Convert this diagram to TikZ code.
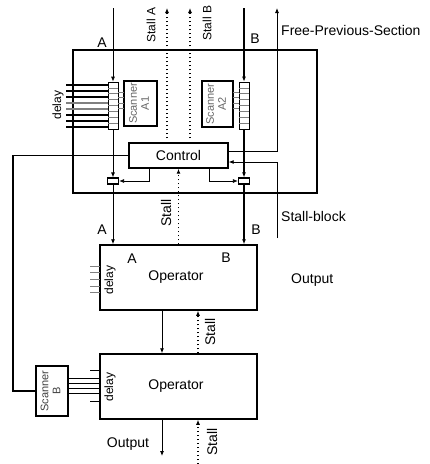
\documentclass[tikz,border=0pt]{standalone}
\usepackage{fontspec}
\setmainfont{Liberation Sans}
\usetikzlibrary{arrows.meta, positioning}

\begin{document}
\begin{tikzpicture}[
  x=1pt, y=-1pt,
  font=\fontsize{14}{16}\selectfont,
  box/.style={draw, line width=1.5pt, inner sep=0pt},
  reg/.style={draw, line width=0.7pt, inner sep=0pt, minimum width=10pt, minimum height=47pt},
  scan/.style={draw, line width=1.2pt, inner sep=0pt, text=black!60,
    font=\fontsize{11}{12}\selectfont},
  mux/.style={draw, line width=1.2pt, inner sep=0pt, minimum width=11pt, minimum height=6pt},
  arr/.style={-{Latex[length=5pt,width=4pt]}, line width=0.8pt},
  stall/.style={arr, line width=1.2pt, dash pattern=on 1.4pt off 2.6pt},
  wire/.style={line width=0.8pt},
  lbl/.style={inner sep=1pt},
  vlbl/.style={rotate=90, inner sep=1pt, font=\fontsize{12}{14}\selectfont}
]
\useasboundingbox (0,0) rectangle (430,464);

% section with the two input scanners
\node[box, minimum width=244pt, minimum height=143pt] (sect) at (195,121.5) {};
\node[reg] (regA) at (113,105.5) {};
\node[reg] (regB) at (244,105.5) {};
\node[scan, minimum width=33pt, minimum height=45pt] (scanA) at (140.5,103.5)
  {\rotatebox{90}{\begin{tabular}{@{}c@{}}Scanner\\A1\end{tabular}}};
\node[scan, minimum width=31pt, minimum height=46pt] (scanAb) at (217.5,104)
  {\rotatebox{90}{\begin{tabular}{@{}c@{}}Scanner\\A2\end{tabular}}};
\node[box, line width=1.4pt, minimum width=99pt, minimum height=25pt] (ctrl) at (178.5,155.5) {Control};
\node[mux] (muxA) at (113,181) {};
\node[mux] (muxB) at (244,181) {};

% operators
\node[box, minimum width=157pt, minimum height=65pt] (op1) at (178.5,277.5) {};
\node[box, minimum width=157pt, minimum height=65pt] (op2) at (178.5,386.5) {};
\node[scan, text=black!75, minimum width=32pt, minimum height=50pt] (scanB) at (52,391)
  {\rotatebox{90}{\begin{tabular}{@{}c@{}}Scanner\\B\end{tabular}}};

% register cells and taps
\foreach \k in {1,...,7} {
  \draw[gray, line width=0.6pt] (108,{82+\k*5.875}) -- (118,{82+\k*5.875});
  \draw[gray, line width=0.6pt] (239,{82+\k*5.875}) -- (249,{82+\k*5.875});
}
\foreach \y in {92,97,103,108} {
  \draw[gray, line width=0.7pt] (118,\y) -- (124,\y);
  \draw[gray, line width=0.7pt] (233,\y) -- (239,\y);
}
\foreach \y/\c in {85/black,91/black,97/black,103/gray,109/gray,115/black,121/black,127/black}
  \draw[wire, \c, line width=1.1pt] (66,\y) -- (108,\y);
\foreach \y in {266,272,279,286,292}
  \draw[gray, line width=0.8pt] (90,\y) -- (100,\y);
\foreach \y in {370,401}
  \draw[line width=0.8pt] (90,\y) -- (100,\y);
\foreach \y in {378,383,388,393}
  \draw[line width=0.8pt] (68,\y) -- (100,\y);

% inputs and stall outputs
\coordinate (inA) at (113,8);
\coordinate (inB) at (244,8);
\coordinate (stA) at (167,8);
\coordinate (stB) at (190,8);
\coordinate (fps) at (277,8);
\coordinate (sblk) at (277,238);
\coordinate (fb) at (13,391);
\draw[arr] (inA) -- (regA.north);
\draw[arr, line width=1.1pt] (inB) -- (regB.north);
\draw[stall] (stA |- ctrl.north) ++(0,-4) -- (stA);
\draw[stall] (stB |- ctrl.north) ++(0,-4) -- (stB);
\draw[arr] (ctrl.east |- 0,151) -| (fps);
\draw[arr] (sblk) |- (ctrl.east |- 0,162);
\draw[wire, line width=1.1pt] (ctrl.west) -| (fb) -- (scanB.west);

% selection of the pair
\draw[arr] (regA.south) -- (muxA.north);
\draw[arr, line width=1.1pt] (regB.south) -- (muxB.north);
\draw[arr] ([xshift=-29.5pt]ctrl.south) |- (muxA.east);
\draw[arr] ([xshift=30.5pt]ctrl.south) |- (muxB.west);
\draw[arr] (muxA.south) -- (muxA.south |- op1.north);
\draw[arr, line width=1.1pt] (muxB.south) -- (muxB.south |- op1.north);
\draw[stall] (op1.north) -- (ctrl.south);

% operator chain
\draw[arr] ([xshift=-16.5pt]op1.south) -- ([xshift=-16.5pt]op2.north);
\draw[stall] ([xshift=19.5pt]op2.north) -- ([xshift=19.5pt]op1.south);
\coordinate (out) at (162,456);
\coordinate (stIn) at (198,464);
\draw[arr] ([xshift=-16.5pt]op2.south) -- (out);
\draw[stall] (stIn) -- ([xshift=19.5pt]op2.south);

% labels
\node[lbl] (lA) at (102,43) {A};
\node[lbl] (lB) at (255,39) {B};
\node[vlbl] (lStA) at (151,25) {Stall A};
\node[vlbl] (lStB) at (207,23) {Stall B};
\node[lbl, anchor=west] (lFps) at (280,30) {Free-Previous-Section};
\node[lbl, anchor=west] (lSblk) at (280,216) {Stall-block};
\node[vlbl] (lDly) at (58,105) {delay};
\node[lbl] (lA1) at (102,230) {A};
\node[lbl] (lB1) at (256,230) {B};
\node[vlbl, font=\fontsize{14}{16}\selectfont] (lSt1) at (166,213) {Stall};
\node[lbl] (opA) at (132,259) {A};
\node[lbl] (opB) at (226,258) {B};
\node[lbl] (opT1) at (176,277) {Operator};
\node[vlbl] (lDly1) at (110,280) {delay};
\node[lbl, anchor=west] (lOut1) at (290,280) {Output};
\node[vlbl, font=\fontsize{14}{16}\selectfont] (lSt2) at (210,332) {Stall};
\node[lbl] (opT2) at (176,386) {Operator};
\node[vlbl] (lDly2) at (110,387) {delay};
\node[lbl] (lOut2) at (128,444) {Output};
\node[vlbl, font=\fontsize{14}{16}\selectfont] (lSt3) at (212,442) {Stall};
\end{tikzpicture}
\end{document}
